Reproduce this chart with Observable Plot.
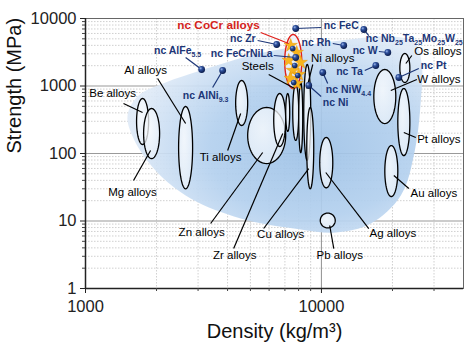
<!DOCTYPE html>
<html><head><meta charset="utf-8">
<script src="https://cdn.jsdelivr.net/npm/d3@7"></script>
<script src="https://cdn.jsdelivr.net/npm/@observablehq/plot@0.6"></script>
<style>body{margin:0;background:#fff}</style>
</head><body><div id="chart"></div>
<script>
// ---- axis ticks ----
const xTicks = [1000, 10000];
const xMinor = [2000,3000,4000,5000,6000,7000,8000,9000,20000,30000];
const yTicks = [1, 10, 100, 1000, 10000];
const yMinor = [2,3,4,5,6,7,8,9,20,30,40,50,60,70,80,90,200,300,400,500,600,700,800,900,2000,3000,4000,5000,6000,7000,8000,9000];

// ---- alloy families: density range (kg/m3) and strength range (MPa) ----
const families = ["Be","Mg","Al","Ti","Zn","Zr","FeA","Steels","FeB","Ni","Cu","Ag","Pb","Au","Pt","W","Os"];
const dMin = [1646,1763,2481,4329,4868,6277,7055,7556,8011,8413,8665,9835,9886,18560,21070,16670,21490];
const dMax = [1851,2061,2844,4868,7055,7055,7337,8011,8330,9007,9275,11170,11440,21070,23700,20660,23700];
const sMin = [136,84,30,260,71,127,212,156,103,79,30,31,7.9,23,93,278,1127];
const sMax = [653,464,497,1206,480,774,774,1052,1127,2083,480,173,13.1,131,918,1755,3030];

// ---- nc CoCr alloys region ----
const cocrRange = {dMin: 6988, dMax: 8249, sMin: 918, sMax: 5794};
const cocrStarD = [7408,7857,7265,8170,7556,8011,7408,7857];
const cocrStarS = [3981,3135,2387,2229,1697,1481,1292,1089];
const cocrDotD = [7556,7704,7936,7628];
const cocrDotS = [3594,2013,1431,1127];

// ---- background blob outline ----
const blobD = [1507,1679,2185,3075,5012,7408,12070,19680,24880,26640,26380,24880,21700,16190,11500,8170,4546,2790,1981,1598];
const blobS = [365,723,1127,1697,2831,3717,4721,5412,4409,2013,610,110.8,23.9,9.18,6.75,7.48,10.9,21.5,56,167];

// ---- nc materials ----
const ncNames = ["nc FeC","nc Nb_{25}Ta_{25}Mo_{25}W_{25}","nc Rh","nc W","nc Ta","nc Pt","nc NiW_{4.4}","nc Ni","nc Zr","nc FeCrNiLa","nc AlFe_{5.5}","nc AlNi_{9.3}"];
const ncD = [7780,15120,12430,19110,17000,21280,10130,8835,6462,7780,3106,3813];
const ncS = [7112,6870,3981,3135,2013,1336,1585,1017,4120,2644,1755,1698];
const ncLabelD = [10230,15420,10950,17330,14970,26380,10430,10130,5263,6216,2457,3229];
const ncLabelS = [7880,5058,4409,3357,1640,2013,887,569,5058,3030,3357,723];
const ncAnchor = ["start","start","end","end","end","start","start","start","end","end","middle","middle"];
const ncLeadD = [9970,15870,11170,17510,15260,25860,10630,9970,5366,6277,2657,3458];
const ncLeadS = [7356,5598,4262,3245,1697,1816,1089,699,4721,2831,2644,950];

// ---- alloy labels ----
const alloyLabels = ["Be alloys","Mg alloys","Al alloys","Ti alloys","Zn alloys","Zr alloys","Cu alloys","Pb alloys","Ag alloys","Au alloys","Pt alloys","W alloys","Os alloys","Ni alloys","Steels"];
const alloyLabelD = [1302,1583,1797,3739,3106,4287,6721,11960,20070,29950,31460,31460,31150,11170,5366];
const alloyLabelS = [774,26.4,1698,87.3,6.75,3.08,6.31,3.08,6.53,25.5,161,1249,3245,2555,1945];
const alloyLeadD1 = [1449,1598,2021,4004,3391,4246,5691,11280,15870,23460,25120,25370,24160,9186,5976];
const alloyLeadS1 = [550,39.8,1292,110.8,9.18,3.91,7.74,3.91,7.74,30.3,172.6,1249,2831,2083,1481];
const alloyLeadD2 = [1745,1887,2657,4546,5636,6854,8835,10840,10430,20270,22340,19680,22790,8665,7704];
const alloyLeadS2 = [405,110.8,278,391,103.5,198,59.9,8.58,52.3,47.2,204.7,858,2154,918,918];

const cocrLabel = {text: "nc CoCr alloys", d: 3666, s: 7880, d1: 5527, s1: 6203, d2: 7265, s2: 4262};

// ---- build ellipse outlines from ranges (log space) ----
function ellipse(name, a, b, c, e, n = 72) {
  const lx0 = Math.log10(a), lx1 = Math.log10(b), ly0 = Math.log10(c), ly1 = Math.log10(e);
  return d3.range(n).map(k => {
    const t = 2 * Math.PI * k / n;
    return {f: name, x: 10 ** ((lx0 + lx1) / 2 + (lx1 - lx0) / 2 * Math.cos(t)),
                     y: 10 ** ((ly0 + ly1) / 2 + (ly1 - ly0) / 2 * Math.sin(t))};
  });
}
const ellPts = families.flatMap((f, i) => ellipse(f, dMin[i], dMax[i], sMin[i], sMax[i]));
const cocrPts = ellipse("CoCr", cocrRange.dMin, cocrRange.dMax, cocrRange.sMin, cocrRange.sMax);
const blob = blobD.map((d, i) => ({x: d, y: blobS[i]}));
const nc = ncNames.map((n, i) => ({n, x: ncD[i], y: ncS[i], lx: ncLabelD[i], ly: ncLabelS[i], a: ncAnchor[i], x1: ncLeadD[i], y1: ncLeadS[i]}));
const alloys = alloyLabels.map((n, i) => ({n, x: alloyLabelD[i], y: alloyLabelS[i], x1: alloyLeadD1[i], y1: alloyLeadS1[i], x2: alloyLeadD2[i], y2: alloyLeadS2[i]}));
const stars = cocrStarD.map((d, i) => ({x: d, y: cocrStarS[i]}));
const cdots = cocrDotD.map((d, i) => ({x: d, y: cocrDotS[i]}));

const defs = () => {
  const ns = "http://www.w3.org/2000/svg";
  const g = document.createElementNS(ns, "defs");
  g.innerHTML = `
    <radialGradient id="blobGrad" cx="62%" cy="58%" r="62%">
      <stop offset="0%" stop-color="#9dc1e6"/>
      <stop offset="55%" stop-color="#b3d0ee"/>
      <stop offset="100%" stop-color="#dfeaf7"/>
    </radialGradient>
    <radialGradient id="ball" cx="35%" cy="32%" r="70%">
      <stop offset="0%" stop-color="#9db8ea"/>
      <stop offset="35%" stop-color="#2d4f9c"/>
      <stop offset="100%" stop-color="#0b1c4a"/>
    </radialGradient>
    <radialGradient id="ellGrad" cx="40%" cy="40%" r="70%">
      <stop offset="0%" stop-color="#ffffff"/>
      <stop offset="100%" stop-color="#e6eff9"/>
    </radialGradient>`;
  return g;
};

const navy = "#1c3677";
const ncText = (anchor) => Plot.text(nc.filter(d => d.a === anchor), {x: "lx", y: "ly", text: "n", textAnchor: anchor, fontSize: 10.5, fontWeight: "bold", fill: navy});
const chart = Plot.plot({
  width: 474, height: 361,
  marginLeft: 85, marginRight: 11, marginTop: 18, marginBottom: 73,
  style: {fontFamily: "Arial, 'Liberation Sans', sans-serif", background: "white"},
  x: {type: "log", domain: [1000, 40000]},
  y: {type: "log", domain: [1, 10000]},
  marks: [
    defs,
    Plot.ruleX(xMinor, {stroke: "#c4c4c4", strokeDasharray: "1.5,1.5", strokeWidth: 0.8}),
    Plot.ruleY(yMinor, {stroke: "#c4c4c4", strokeDasharray: "1.5,1.5", strokeWidth: 0.8}),
    Plot.ruleX([10000], {stroke: "#9a9a9a", strokeWidth: 1.1}),
    Plot.ruleY([10, 100, 1000], {stroke: "#9a9a9a", strokeWidth: 1.1}),
    Plot.line(blob, {x: "x", y: "y", curve: "catmull-rom-closed", fill: "url(#blobGrad)", fillOpacity: 0.92, stroke: "none"}),
    Plot.line(ellPts, {x: "x", y: "y", z: "f", curve: "linear-closed", fill: "url(#ellGrad)", fillOpacity: 0.75, stroke: "black", strokeWidth: 1.3}),
    Plot.line(cocrPts, {x: "x", y: "y", curve: "linear-closed", fill: "#eef3fa", fillOpacity: 0.8, stroke: "#e0201b", strokeWidth: 1.4}),
    Plot.dot(stars, {x: "x", y: "y", symbol: "star", r: 4.2, fill: "#f8b51e", stroke: "#e89a10", strokeWidth: 0.5}),
    Plot.dot(cdots, {x: "x", y: "y", r: 2.8, fill: "url(#ball)"}),
    Plot.link(alloys, {x1: "x1", y1: "y1", x2: "x2", y2: "y2", stroke: "black", strokeWidth: 1.2}),
    Plot.link(nc, {x1: "x1", y1: "y1", x2: "x", y2: "y", stroke: navy, strokeWidth: 1.2}),
    Plot.link([cocrLabel], {x1: "d1", y1: "s1", x2: "d2", y2: "s2", stroke: "#e0201b", strokeWidth: 1.3}),
    Plot.dot(nc, {x: "x", y: "y", r: 3.4, fill: "url(#ball)"}),
    Plot.text(alloys, {x: "x", y: "y", text: "n", fontSize: 11.5, fill: "black"}),
    ncText("start"), ncText("end"), ncText("middle"),
    Plot.text([cocrLabel], {x: "d", y: "s", text: "text", fontSize: 11.8, fontWeight: "bold", fill: "#d41f1c"}),
    Plot.frame({stroke: "#666", strokeWidth: 1}),
    Plot.ruleX([1000], {stroke: "#222", strokeWidth: 1.5}),
    Plot.ruleY([1], {stroke: "#222", strokeWidth: 1.5}),
    Plot.axisY(yTicks, {tickFormat: d => String(d), fontSize: 16.5, tickSize: 5, tickPadding: 4, label: null, stroke: "#222", fill: "#222"}),
    Plot.axisY(yMinor, {tickFormat: () => "", tickSize: 3, label: null, stroke: "#444"}),
    Plot.axisX(xTicks, {tickFormat: d => String(d), fontSize: 16.5, tickSize: 5, tickPadding: 7, label: null, stroke: "#222", fill: "#222"}),
    Plot.axisX(xMinor, {tickFormat: () => "", tickSize: 3, label: null, stroke: "#444"}),
    Plot.text(["Strength (MPa)"], {frameAnchor: "left", dx: -71, rotate: -90, fontSize: 20, fill: "#111"}),
    Plot.text(["Density (kg/m³)"], {frameAnchor: "bottom", dy: 49, fontSize: 20, fill: "#111"})
  ]
});

// subscripts
const ns = "http://www.w3.org/2000/svg";
chart.querySelectorAll("text").forEach(t => {
  const s = t.textContent;
  if (!s.includes("_{")) return;
  const parts = s.split(/(_\{[^}]*\})/).filter(p => p);
  t.textContent = "";
  let sub = false;
  parts.forEach(p => {
    const ts = document.createElementNS(ns, "tspan");
    if (p.startsWith("_{")) {
      ts.textContent = p.slice(2, -1);
      ts.setAttribute("font-size", "7");
      ts.setAttribute("dy", "3");
      sub = true;
    } else {
      ts.textContent = p;
      if (sub) { ts.setAttribute("dy", "-3"); sub = false; }
    }
    t.appendChild(ts);
  });
});
document.getElementById("chart").appendChild(chart);
</script>
</body></html>
